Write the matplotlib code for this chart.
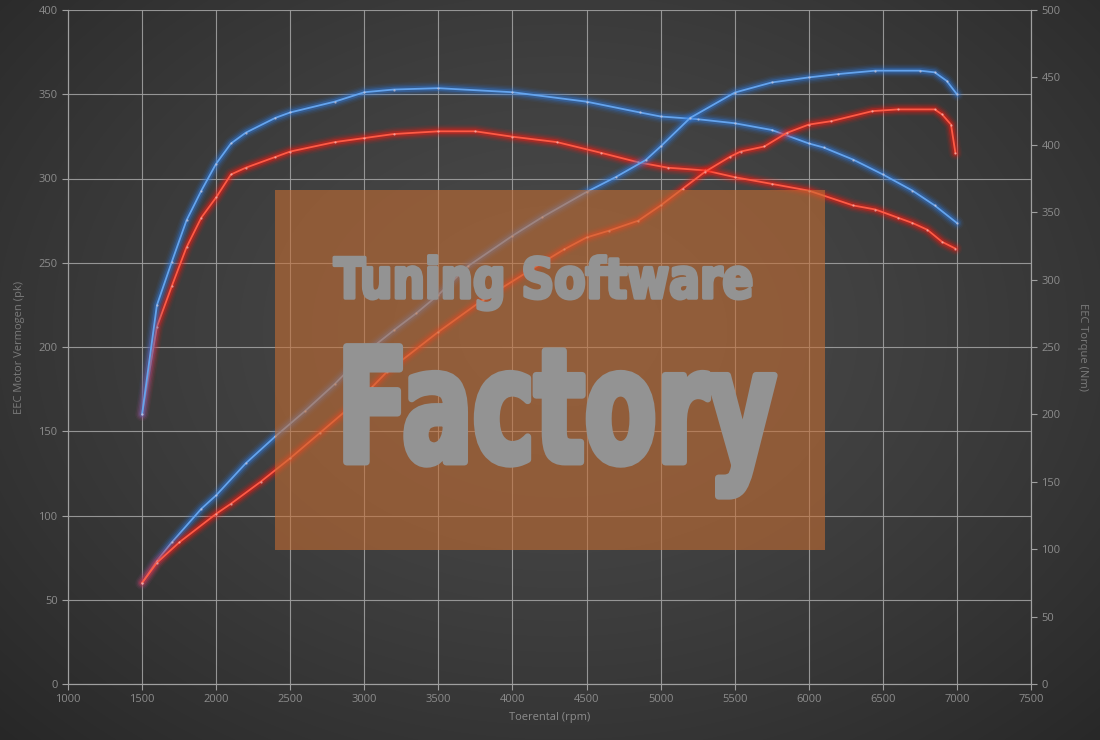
import numpy as np
import matplotlib
matplotlib.use("Agg")
import matplotlib.pyplot as plt
from matplotlib.patches import Rectangle
from matplotlib.patheffects import AbstractPathEffect
from matplotlib.transforms import Affine2D

# ---------------- data ----------------
rpm_blue_pwr = [1500, 1600, 1700, 1900, 2000, 2200, 2400, 2600, 2800, 3000, 3200, 3350,
                3500, 3700, 4000, 4200, 4500, 4700, 4900, 5000, 5200, 5500, 5750, 6000,
                6200, 6450, 6750, 6850, 6930, 7000]
blue_pwr = [60, 73, 84, 104, 112, 131, 147, 162, 178, 196, 210, 220,
            231, 248, 266, 277, 292, 301, 311, 319, 336, 351, 357, 360,
            362, 364, 364, 363, 358, 350]

rpm_red_pwr = [1500, 1600, 1750, 2000, 2100, 2300, 2500, 2700, 2900, 3050, 3150, 3500,
               3800, 4200, 4350, 4500, 4650, 4850, 5000, 5150, 5300, 5470, 5540, 5700,
               5850, 6000, 6150, 6430, 6600, 6850, 6900, 6960, 6990]
red_pwr = [60, 72, 84, 101, 107, 120, 134, 149, 164, 176, 185, 209,
           228, 250, 258, 265, 269, 275, 284, 294, 304, 313, 316, 319,
           327, 332, 334, 340, 341, 341, 338, 332, 315]

rpm_blue_trq = [1500, 1600, 1700, 1800, 1900, 2000, 2100, 2200, 2400, 2500, 2800, 3000,
                3200, 3500, 4000, 4500, 4860, 5000, 5250, 5500, 5750, 6000, 6100, 6300,
                6500, 6700, 6850, 7000]
blue_trq = [200, 281, 313, 344, 366, 386, 401, 409, 420, 424, 432, 439,
            441, 442, 439, 432, 424, 421, 419, 416, 411, 401, 398, 389,
            378, 366, 355, 342]

rpm_red_trq = [1500, 1600, 1700, 1800, 1900, 2000, 2100, 2200, 2400, 2500, 2800, 3000,
               3200, 3500, 3750, 4000, 4300, 4600, 4850, 5050, 5300, 5500, 5750, 6000,
               6300, 6450, 6600, 6700, 6800, 6900, 6990]
red_trq = [200, 265, 295, 324, 346, 361, 378, 383, 391, 395, 402, 405,
           408, 410, 410, 406, 402, 394, 387, 383, 381, 376, 371, 366,
           355, 352, 346, 342, 337, 328, 323]

x_ticks = list(range(1000, 7501, 500))
left_ticks = list(range(0, 401, 50))
right_ticks = list(range(0, 501, 50))

x_label = "Toerental (rpm)"
left_label = "EEC Motor Vermogen (pk)"
right_label = "EEC Torque (Nm)"
wm_line1 = "Tuning Software"
wm_line2 = "Factory"

# ---------------- styling ----------------
W, H, DPI = 1100, 740, 100
fig = plt.figure(figsize=(W / DPI, H / DPI), dpi=DPI)

# background radial gradient
bg = fig.add_axes([0, 0, 1, 1], zorder=-10)
yy, xx = np.mgrid[0:H, 0:W]
cx, cy = 560, 330
r = np.sqrt(((xx - cx) / 720.0) ** 2 + ((yy - cy) / 540.0) ** 2)
val = np.clip(0x4a - (0x4a - 0x2b) * r ** 1.4, 0x27, 0x4a) / 255.0
img = np.dstack([val, val, val])
bg.imshow(img, extent=[0, 1, 0, 1], aspect="auto", origin="upper")
bg.axis("off")

left, right = 68 / W, 1031 / W
bottom, top = (H - 684) / H, (H - 10) / H
ax = fig.add_axes([left, bottom, right - left, top - bottom])
ax.patch.set_alpha(0)
ax2 = ax.twinx()
ax2.patch.set_alpha(0)

grid_col = "#a0a0a0"
tick_col = "#8c8c8c"
ax.set_xlim(1000, 7500)
ax.set_ylim(0, 400)
ax2.set_ylim(0, 500)
ax.set_xticks(x_ticks)
ax.set_yticks(left_ticks)
ax2.set_yticks(right_ticks)
ax.grid(True, color=grid_col, linewidth=0.8, alpha=0.9)
ax.set_axisbelow(True)

for a in (ax, ax2):
    for s in a.spines.values():
        s.set_color(grid_col)
        s.set_linewidth(0.8)
    a.tick_params(colors=grid_col, labelcolor=tick_col, labelsize=8, length=4, width=0.8)
ax.spines["top"].set_visible(False)
ax2.spines["top"].set_visible(False)

font = "Open Sans"
for lab in ax.get_xticklabels() + ax.get_yticklabels() + ax2.get_yticklabels():
    lab.set_fontfamily(font)

ax.set_xlabel(x_label, color=tick_col, fontsize=8, fontfamily=font, labelpad=5)
ax.set_ylabel(left_label, color="#7a7a7a", fontsize=8, fontfamily=font, labelpad=10)
ax2.set_ylabel(right_label, color="#7a7a7a", fontsize=8, fontfamily=font,
               rotation=270, va="bottom", labelpad=12)


def glow(axis, x, y, glow_col, core_col, z):
    for lw, al in [(10, 0.06), (8, 0.10), (6, 0.16), (4, 0.32)]:
        axis.plot(x, y, color=glow_col, lw=lw, alpha=al, solid_capstyle="round",
                  solid_joinstyle="round", zorder=z)
    axis.plot(x, y, color=core_col, lw=1.3, zorder=z + 0.1, solid_joinstyle="round")
    axis.plot(x, y, linestyle="none", marker="o", ms=1.6, mfc="#f4d8d8",
              mec="none", alpha=0.55, zorder=z + 0.2)


BLUE_GLOW, BLUE_CORE = "#2f7be0", "#64a4ee"
RED_GLOW, RED_CORE = "#ff1a10", "#ff5a45"

glow(ax2, rpm_red_trq, red_trq, RED_GLOW, RED_CORE, 3)
glow(ax2, rpm_blue_trq, blue_trq, BLUE_GLOW, BLUE_CORE, 3.5)
glow(ax2, rpm_red_pwr, [v * 500 / 400 for v in red_pwr], RED_GLOW, RED_CORE, 4)
glow(ax2, rpm_blue_pwr, [v * 500 / 400 for v in blue_pwr], BLUE_GLOW, BLUE_CORE, 3.8)


class Condensed(AbstractPathEffect):
    """Draw text glyphs horizontally condensed (anchored at left) and thickened."""

    def __init__(self, sx, stroke):
        super().__init__()
        self.sx = sx
        self.stroke = stroke

    def draw_path(self, renderer, gc, tpath, affine, rgbFace=None):
        t = Affine2D().scale(self.sx, 1.0) + affine
        gc0 = renderer.new_gc()
        gc0.copy_properties(gc)
        gc0.set_linewidth(self.stroke)
        gc0.set_foreground(rgbFace)
        gc0.set_joinstyle("round")
        renderer.draw_path(gc0, tpath, t, rgbFace)
        gc0.restore()


# watermark
wm_x0, wm_x1 = (275 - 68) / 963, (825 - 68) / 963
wm_y0, wm_y1 = (684 - 550) / 674, (684 - 190) / 674
ax2.add_patch(Rectangle((wm_x0, wm_y0), wm_x1 - wm_x0, wm_y1 - wm_y0,
                        transform=ax2.transAxes, facecolor="#c86e32", alpha=0.58,
                        edgecolor="none", zorder=10))
ax2.text((334 - 68) / 963, (684 - 298) / 674, wm_line1, transform=ax2.transAxes,
         ha="left", va="baseline", fontsize=40, fontweight="bold", color="#939393",
         fontfamily="DejaVu Sans", zorder=11,
         path_effects=[Condensed(0.82, 2.5)])
ax2.text((337 - 68) / 963, (684 - 462) / 674, wm_line2, transform=ax2.transAxes,
         ha="left", va="baseline", fontsize=114, fontweight="bold", color="#939393",
         fontfamily="DejaVu Sans", zorder=11,
         path_effects=[Condensed(0.66, 5)])

fig.savefig("out.png", dpi=DPI)
